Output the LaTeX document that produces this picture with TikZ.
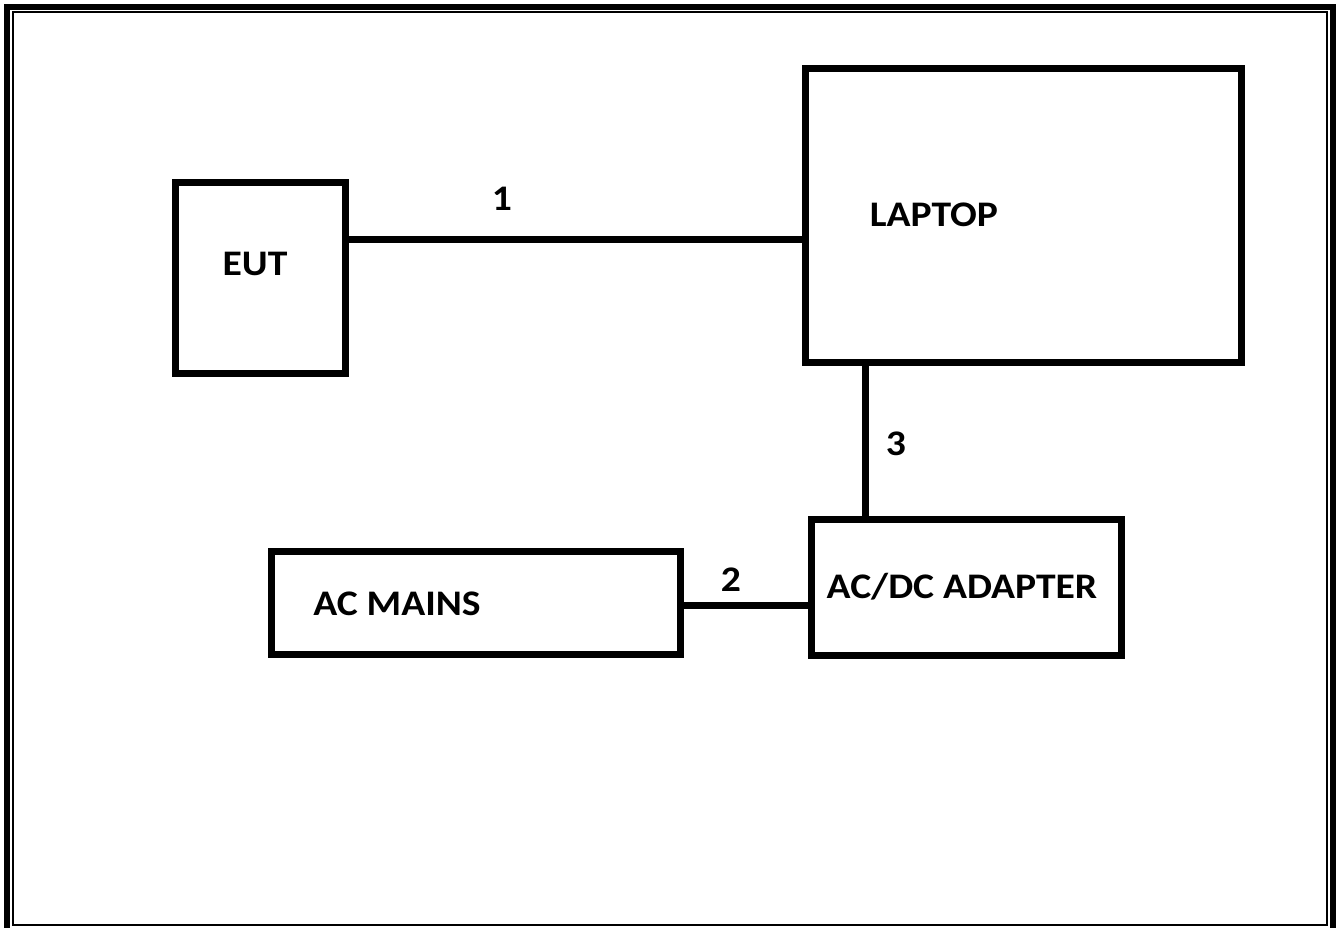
\documentclass[tikz,border=0pt]{standalone}
\usepackage{fontspec}
\setmainfont{Carlito}[FakeStretch=1.1]
\begin{document}
\begin{tikzpicture}[x=1pt,y=-1pt,
  box/.style={draw=black,line width=7pt},
  wire/.style={draw=black,line width=7pt},
  lbl/.style={font=\fontsize{36}{42}\selectfont\bfseries,inner sep=0pt}]
\useasboundingbox (0,0) rectangle (1336,928);
\clip (0,0) rectangle (1336,928);
\fill[white] (0,0) rectangle (1336,928);
% page border
\draw[line width=6.5pt] (7,7) rectangle (1333,934);
\draw[line width=2pt] (13,12) rectangle (1327,925);
% boxes
\draw[box] (175,183) rectangle (345,373);
\node[lbl] (eut) at (255,264) {EUT};
\coordinate (eutR) at (345,240);
\draw[box] (805,69) rectangle (1241,362);
\node[lbl] (laptop) at (934,215) {LAPTOP};
\coordinate (lapL) at (809,240);
\coordinate (lapB) at (865,362);
\draw[box] (811,519) rectangle (1121,655);
\node[lbl] (adapter) at (962,587) {AC/DC ADAPTER};
\coordinate (adT) at (865,519);
\coordinate (adL) at (811,605);
\draw[box] (271,551) rectangle (680,654);
\node[lbl] (mains) at (397,604) {AC MAINS};
\coordinate (mainsR) at (680,605);
% connectors
\draw[wire] (eutR) -- (lapL);
\draw[wire] (lapB) -- (adT);
\draw[wire] (mainsR) -- (adL);
\node[lbl] (n1) at (502,199) {1};
\node[lbl] (n3) at (896,444) {3};
\node[lbl] (n2) at (731,580) {2};
\end{tikzpicture}
\end{document}
